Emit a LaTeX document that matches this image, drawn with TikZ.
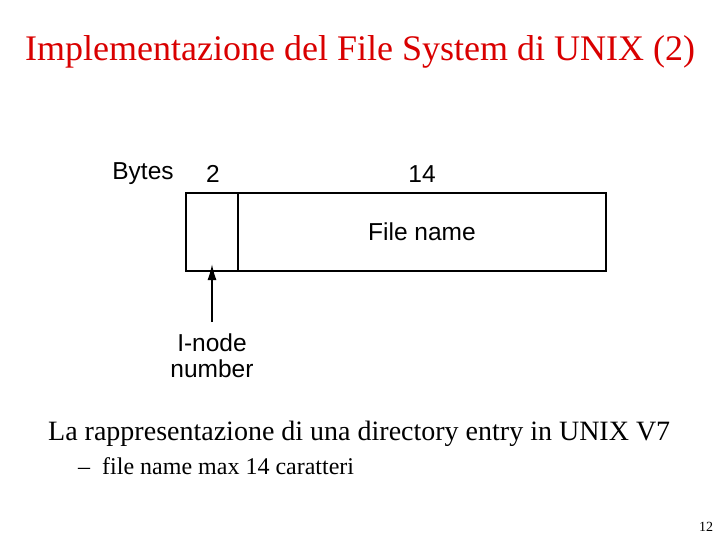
\documentclass[tikz,border=0pt]{standalone}
\usepackage{fontspec}
\usetikzlibrary{arrows.meta}
\setmainfont{Liberation Serif}
\newfontfamily\lab{Liberation Sans}
\begin{document}
\begin{tikzpicture}[x=1pt,y=-1pt,
  lbl/.style={font=\lab\fontsize{24.5}{26}\selectfont,inner sep=0pt}]
\useasboundingbox (0,0) rectangle (720,540);
\node[text=red!85!black,font=\fontsize{36}{40}\selectfont] (title) at (360,52) {Implementazione del File System di UNIX (2)};
\draw[line width=2.4pt] (186,193) rectangle (606,271);
\draw[line width=2.4pt] (238,193) -- (238,271);
\coordinate (tip) at (212,264);
\coordinate (tail) at (212,322);
\node[lbl] (bytes) at (143,174) {Bytes};
\node[lbl] (two) at (213,174) {2};
\node[lbl] (fourteen) at (422,174) {14};
\node[lbl] (fname) at (422,232) {File name};
\node[lbl,align=center] (inode) at (212,356) {I-node\\[0pt]number};
\draw[line width=1.6pt,-{Latex[length=16pt,width=9pt]}] (tail) -- (tip);
\node[anchor=west,font=\fontsize{28}{30}\selectfont,inner sep=0pt] (body) at (48,434) {La rappresentazione di una directory entry in UNIX V7};
\node[anchor=west,font=\fontsize{24}{26}\selectfont,inner sep=0pt] (sub) at (78,466) {--\ \ file name max 14 caratteri};
\node[font=\fontsize{14}{16}\selectfont,inner sep=0pt] (pg) at (706,527) {12};
\end{tikzpicture}
\end{document}
